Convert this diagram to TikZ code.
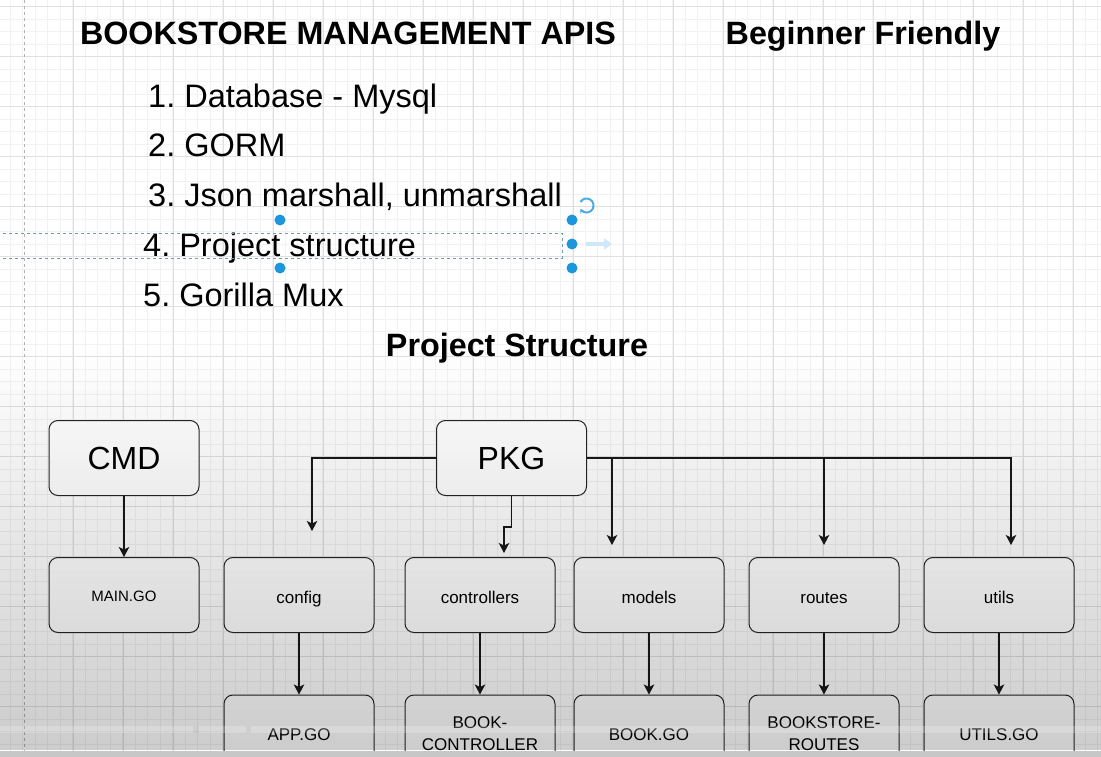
\documentclass[tikz,border=0pt]{standalone}
\usepackage{fontspec}
\setmainfont{Liberation Sans}
\usetikzlibrary{arrows.meta}
\definecolor{selblue}{HTML}{1E96DC}
\definecolor{gridmin}{HTML}{F2F2F2}
\definecolor{gridmaj}{HTML}{E0E0E0}
\frenchspacing
\begin{document}
\begin{tikzpicture}[x=1pt,y=-1pt,
  box/.style={draw=black!85, line width=1pt, rounded corners=9pt, minimum width=150pt,
    minimum height=75pt, fill=white, inner sep=0pt, font=\fontsize{17}{22}\selectfont,
    text height=16pt, text depth=0pt, align=center},
  twoline/.style={box, text height=35pt, text depth=0pt},
  bigbox/.style={box, font=\fontsize{32}{38}\selectfont, text height=23pt, text depth=0pt},
  arr/.style={-{Stealth[length=10pt,width=10.5pt,inset=2.5pt]}, line width=1.15pt, draw=black!90},
  headtxt/.style={font=\bfseries\fontsize{32.3}{38}\selectfont, inner sep=0pt},
  itemtxt/.style={font=\fontsize{32.5}{38}\selectfont, inner sep=0pt, anchor=base west},
  handle/.style={circle, fill=selblue, inner sep=0pt, minimum size=11pt}
]
\useasboundingbox (0,0) rectangle (1101,757);
\fill[white] (0,0) rectangle (1101,757);
% grid
\foreach \gx in {-2.7,9.8,...,1101} {\draw[gridmin, line width=0.5pt] (\gx,0) -- (\gx,757);}
\foreach \gy in {-5.8,6.7,...,757} {\draw[gridmin, line width=0.5pt] (0,\gy) -- (1101,\gy);}
\foreach \gx in {73.3,123.3,...,1101} {\draw[gridmaj, line width=0.6pt] (\gx,0) -- (\gx,757);}
\foreach \gy in {6.7,56.7,...,757} {\draw[gridmaj, line width=0.6pt] (0,\gy) -- (1101,\gy);}
% page boundary
\draw[black!30, dashed, line width=0.8pt] (24,0) -- (24,757);

% headings
\node[headtxt, anchor=base] (title) at (348,44.5) {BOOKSTORE MANAGEMENT APIS};
\node[headtxt, anchor=base] (friendly) at (863,44.5) {Beginner Friendly};
\node[itemtxt] (i1) at (148,107.5) {1. Database - Mysql};
\node[itemtxt] (i2) at (148,156.5) {2. GORM};
\node[itemtxt] (i3) at (148,206.5) {3. Json marshall, unmarshall};
\node[itemtxt] (i4) at (143,256.5) {4. Project structure};
\node[itemtxt] (i5) at (143,306.5) {5. Gorilla Mux};
\node[headtxt, anchor=base] (ps) at (517,356.5) {Project Structure};

% selection marks
\draw[black!40!selblue!60, dashed, line width=0.8pt] (-2,233) rectangle (562,258);
\node[handle] (h1) at (280,220) {};
\node[handle] (h2) at (280,268) {};
\node[handle] (h3) at (572,220) {};
\node[handle] (h4) at (572,244) {};
\node[handle] (h5) at (572,268) {};
\draw[selblue!80, line width=2pt, -{Stealth[length=4pt,width=5pt]}] (580.5,202) arc[start angle=150, end angle=-150, radius=7pt];
\draw[selblue!22, line width=4pt, -{Triangle[length=8pt,width=11pt]}] (586,244) -- (612,244);

% boxes
\node[bigbox] (cmd) at (124,458) {CMD};
\node[bigbox] (pkg) at (511.5,458) {PKG};
\node[box, font=\fontsize{15}{20}\selectfont, text height=12pt, text depth=0pt] (main) at (124,595) {MAIN.GO};
\node[box] (config) at (299,595) {config};
\node[box] (controllers) at (480,595) {controllers};
\node[box] (models) at (649,595) {models};
\node[box] (routes) at (824,595) {routes};
\node[box] (utils) at (999,595) {utils};
\node[box] (app) at (299,732.5) {APP.GO};
\node[twoline] (bookctl) at (480,732.5) {BOOK-\\CONTROLLER};
\node[box] (bookgo) at (649,732.5) {BOOK.GO};
\node[twoline] (bsroutes) at (824,732.5) {BOOKSTORE-\\ROUTES};
\node[box] (utilsgo) at (999,732.5) {UTILS.GO};

% connector points
\coordinate (cfgtip) at (312,531);
\coordinate (ctljog) at (504,527);
\coordinate (ctltip) at (504,553);
\coordinate (modbr) at (612,458);
\coordinate (modtip) at (612,545);
\coordinate (rtbr) at (824,458);
\coordinate (rttip) at (824,545);
\coordinate (uttip) at (1011,545);

% connectors
\draw[arr] (cmd.south) -- (main.north);
\draw[arr] (pkg.west) -| (cfgtip);
\draw[arr] (pkg.south) |- (ctljog) -- (ctltip);
\draw[arr] (pkg.east) -| (uttip);
\draw[arr] (modbr) -- (modtip);
\draw[arr] (rtbr) -- (rttip);
\draw[arr] (config.south) -- (app.north);
\draw[arr] (controllers.south) -- (bookctl.north);
\draw[arr] (models.south) -- (bookgo.north);
\draw[arr] (routes.south) -- (bsroutes.north);
\draw[arr] (utils.south) -- (utilsgo.north);

% screen darkening overlay
\foreach \i in {0,...,39} {
  \pgfmathsetmacro{\op}{0.2*(\i+0.5)/40}
  \pgfmathsetmacro{\ya}{350+10*\i}
  \pgfmathsetmacro{\yb}{360+10*\i}
  \fill[black, fill opacity=\op] (0,\ya) rectangle (1101,\yb);
}
% player bar artefacts
\fill[white, fill opacity=0.22] (0,726) rectangle (193,733);
\fill[white, fill opacity=0.22] (199,726) rectangle (246,733);
\fill[white, fill opacity=0.22] (251,726) rectangle (1101,733);
\fill[black!22] (0,751) rectangle (1101,757);
\end{tikzpicture}
\end{document}
